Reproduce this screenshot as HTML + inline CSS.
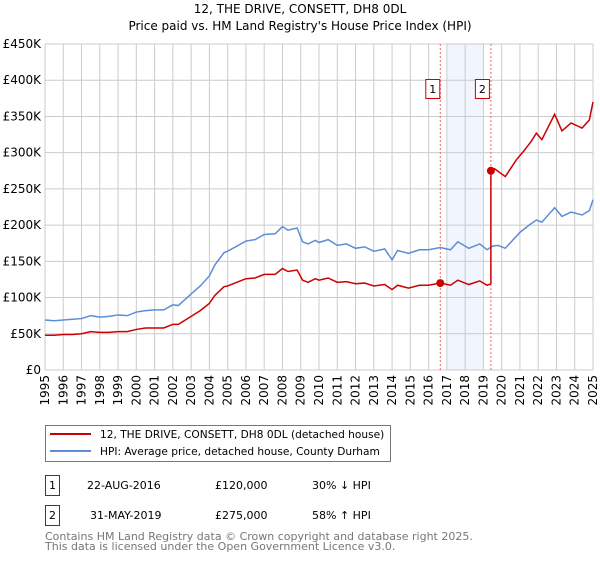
<!DOCTYPE html>
<html><head><meta charset="utf-8"><style>
body{margin:0;background:#fff;font-family:"DejaVu Sans","Liberation Sans",sans-serif;}
svg text{font-family:"DejaVu Sans","Liberation Sans",sans-serif;}
</style></head><body>
<svg id="chart" width="600" height="560" viewBox="0 0 600 560" xmlns="http://www.w3.org/2000/svg">
<text x="300" y="13" text-anchor="middle" font-size="12">12, THE DRIVE, CONSETT, DH8 0DL</text>
<text x="300" y="30" text-anchor="middle" font-size="12">Price paid vs. HM Land Registry's House Price Index (HPI)</text>
<g id="grid"></g><g id="marks"></g>
<g>
<rect x="45.5" y="425.5" width="345" height="36" fill="#fff" stroke="#777"/>
<line x1="50" y1="434" x2="91" y2="434" stroke="#cc0000" stroke-width="2"/>
<text x="100" y="438" font-size="10.6">12, THE DRIVE, CONSETT, DH8 0DL (detached house)</text>
<line x1="50" y1="451" x2="91" y2="451" stroke="#5b8ed6" stroke-width="2"/>
<text x="100" y="455" font-size="10.6">HPI: Average price, detached house, County Durham</text>
</g>
<g>
<rect x="45.5" y="475.5" width="14" height="20" fill="#fff" stroke="#cc0000"/>
<text x="52.5" y="489" text-anchor="middle" font-size="11">1</text>
<text x="87" y="489" font-size="11">22-AUG-2016</text>
<text x="215" y="489" font-size="11">£120,000</text>
<text x="312" y="489" font-size="11">30% ↓ HPI</text>
<rect x="45.5" y="505.5" width="14" height="20" fill="#fff" stroke="#cc0000"/>
<text x="52.5" y="519" text-anchor="middle" font-size="11">2</text>
<text x="90" y="519" font-size="11">31-MAY-2019</text>
<text x="215" y="519" font-size="11">£275,000</text>
<text x="312" y="519" font-size="11">58% ↑ HPI</text>
</g>
<text x="45" y="540" font-size="11" fill="#777">Contains HM Land Registry data © Crown copyright and database right 2025.</text>
<text x="45" y="550" font-size="11" fill="#777">This data is licensed under the Open Government Licence v3.0.</text>
</svg>
<script>
const hpiYears=[1995,1995.5,1996,1996.5,1997,1997.5,1998,1998.5,1999,1999.5,2000,2000.5,2001,2001.5,2002,2002.3,2003,2003.5,2004,2004.3,2004.8,2005,2006,2006.5,2007,2007.6,2008,2008.3,2008.8,2009.1,2009.4,2009.8,2010,2010.5,2011,2011.5,2012,2012.5,2013,2013.6,2014,2014.3,2014.9,2015.5,2016,2016.64,2017.2,2017.6,2018.2,2018.8,2019.2,2019.5,2019.8,2020.2,2021,2021.5,2021.9,2022.2,2022.9,2023.3,2023.8,2024.4,2024.8,2025];
const hpiValues=[69,68,69,70,71,75,73,74,76,75,80,82,83,83,90,89,105,116,130,145,162,164,178,180,187,188,198,193,196,177,174,179,176,180,172,174,168,170,164,167,152,165,161,166,166,169,166,177,168,174,166,171,172,168,190,200,207,204,224,212,218,214,220,235];
const saleYears=[1995,1995.5,1996,1996.5,1997,1997.5,1998,1998.5,1999,1999.5,2000,2000.5,2001,2001.5,2002,2002.3,2003,2003.5,2004,2004.3,2004.8,2005,2006,2006.5,2007,2007.6,2008,2008.3,2008.8,2009.1,2009.4,2009.8,2010,2010.5,2011,2011.5,2012,2012.5,2013,2013.6,2014,2014.3,2014.9,2015.5,2016,2016.64,2017.2,2017.6,2018.2,2018.8,2019.2,2019.41,2019.41,2019.6,2020.2,2020.8,2021.2,2021.6,2021.9,2022.2,2022.9,2023.3,2023.8,2024.4,2024.8,2025];
const saleValues=[48,48,49,49,50,53,52,52,53,53,56,58,58,58,63,63,74,82,92,103,115,116,126,127,132,132,140,136,138,124,121,126,124,127,121,122,119,120,116,118,111,117,113,117,117,120,117,124,118,123,117,119,275,278,267,290,302,315,327,318,353,330,341,334,345,370];
const saleDates=[2016.64,2019.41];
const salePrices=[120,275];
const yTicks=[0,50,100,150,200,250,300,350,400,450];
const yTickLabels=["£0","£50K","£100K","£150K","£200K","£250K","£300K","£350K","£400K","£450K"];
const xTicks=[1995,1996,1997,1998,1999,2000,2001,2002,2003,2004,2005,2006,2007,2008,2009,2010,2011,2012,2013,2014,2015,2016,2017,2018,2019,2020,2021,2022,2023,2024,2025];
const X0=45,X1=593,Y0=370,Y1=44;
const xs=y=>X0+(y-1995)/30*(X1-X0);
const ys=v=>Y0-v/450*(Y0-Y1);
const NS="http://www.w3.org/2000/svg";
const grid=document.getElementById('grid'),marks=document.getElementById('marks');
function mk(tag,attrs,parent){const e=document.createElementNS(NS,tag);for(const k in attrs)e.setAttribute(k,attrs[k]);parent.appendChild(e);return e;}
let sh=mk('rect',{x:xs(2017),y:Y1,width:xs(2019)-xs(2017),height:Y0-Y1,fill:'#eef2fc',opacity:0.8},grid);


yTicks.forEach((t,i)=>{
 const l=mk('line',{x1:X0,x2:X1,y1:ys(t),y2:ys(t),stroke:'#cccccc'},grid);
 
 
 const tx=mk('text',{x:X0-4,y:ys(t)+4,'text-anchor':'end','font-size':12},grid);
 tx.textContent=yTickLabels[i];
 
 
});
xTicks.forEach(t=>{
 const l=mk('line',{x1:xs(t),x2:xs(t),y1:Y1,y2:Y0,stroke:'#cccccc'},grid);
 
 
 const tx=mk('text',{x:0,y:0,'text-anchor':'end','font-size':12,transform:`translate(${xs(t)+4},${Y0+5}) rotate(-90)`},grid);
 tx.textContent=t;
 
 
});
saleDates.forEach((d,i)=>{
 const l=mk('line',{x1:xs(d),x2:xs(d),y1:Y1,y2:Y0,stroke:'#ee6666','stroke-dasharray':'2,2'},marks);
 
 
 const r=mk('rect',{x:xs(d)-14.5+(i?-1:0),y:79.5,width:14,height:19,fill:'#fff',stroke:'#cc0000'},marks);
 
 
 const tx=mk('text',{x:xs(d)-7.5+(i?-1:0),y:93,'text-anchor':'middle','font-size':11},marks);
 tx.textContent=String(i+1);
 
 
});
const p1=mk('polyline',{points:hpiYears.map((y,i)=>xs(y)+','+ys(hpiValues[i])).join(' '),fill:'none',stroke:'#5b8ed6','stroke-width':1.5},marks);


const p2=mk('polyline',{points:saleYears.map((y,i)=>xs(y)+','+ys(saleValues[i])).join(' '),fill:'none',stroke:'#cc0000','stroke-width':1.5},marks);


saleDates.forEach((d,i)=>{
 const c=mk('circle',{cx:xs(d),cy:ys(salePrices[i]),r:4,fill:'#cc0000'},marks);
 
 
});
</script>
</body></html>
